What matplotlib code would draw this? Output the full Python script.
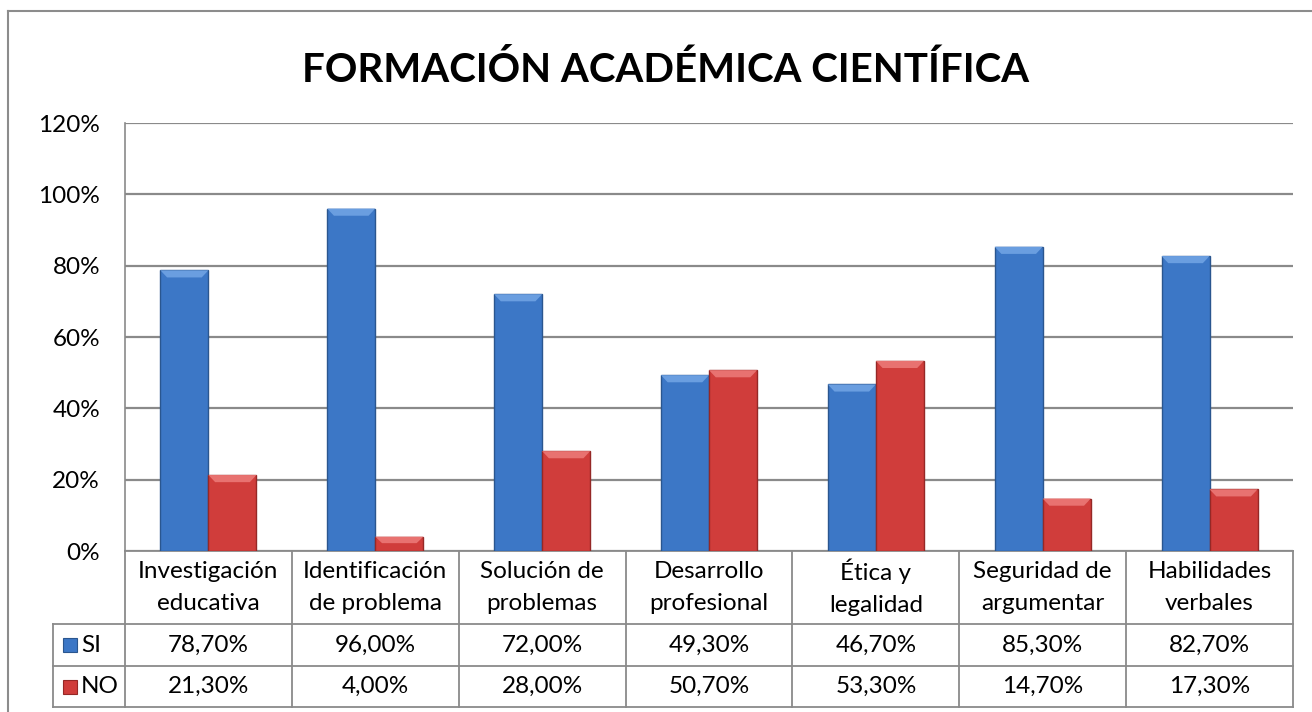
import matplotlib
matplotlib.use("Agg")
import matplotlib.pyplot as plt
from matplotlib.lines import Line2D
from matplotlib.patches import Rectangle, Polygon
from matplotlib.transforms import blended_transform_factory

CATEGORIES = [
    "Investigación\neducativa",
    "Identificación\nde problema",
    "Solución de\nproblemas",
    "Desarrollo\nprofesional",
    "Ética y\nlegalidad",
    "Seguridad de\nargumentar",
    "Habilidades\nverbales",
]
SI_VALUES = [78.7, 96.0, 72.0, 49.3, 46.7, 85.3, 82.7]
NO_VALUES = [21.3, 4.0, 28.0, 50.7, 53.3, 14.7, 17.3]
SERIES_NAMES = ["SI", "NO"]
Y_TICKS = [0, 20, 40, 60, 80, 100, 120]

TITLE = "FORMACIÓN ACADÉMICA CIENTÍFICA"

BLUE = "#3c77c6"
BLUE_EDGE = "#2a568f"
BLUE_LIGHT = "#6a9ee0"
RED = "#d03d3b"
RED_EDGE = "#952826"
RED_LIGHT = "#e87270"
GRID = "#8a8a8a"
FS = 17.5

plt.rcParams["font.family"] = ["Lato", "DejaVu Sans"]

W, H = 1312, 712
fig = plt.figure(figsize=(W / 100, H / 100), dpi=100)

# plot area in pixel terms of the reference
left_px, right_px, top_px, zero_px = 125, 1293, 123, 551
ax = fig.add_axes([left_px / W, 1 - zero_px / H,
                   (right_px - left_px) / W, (zero_px - top_px) / H])

n = len(CATEGORIES)
xs = list(range(n))
bw = 0.288
bars_si = ax.bar([x - bw / 2 for x in xs], SI_VALUES, width=bw, color=BLUE,
                 edgecolor=BLUE_EDGE, linewidth=1.0, zorder=3)
bars_no = ax.bar([x + bw / 2 for x in xs], NO_VALUES, width=bw, color=RED,
                 edgecolor=RED_EDGE, linewidth=1.0, zorder=3)

# light bevel on the top of each bar
for bars, light in ((bars_si, BLUE_LIGHT), (bars_no, RED_LIGHT)):
    for b in bars:
        x0, w, h = b.get_x(), b.get_width(), b.get_height()
        bev = min(2.0, h * 0.45)
        inset = w * 0.14
        ax.add_patch(Polygon([(x0, h), (x0 + w, h), (x0 + w - inset, h - bev),
                              (x0 + inset, h - bev)], closed=True,
                             facecolor=light, edgecolor="none", zorder=4))

ax.set_xlim(-0.5, n - 0.5)
ax.set_ylim(0, 120)
ax.set_yticks(Y_TICKS)
ax.set_yticklabels([f"{t}%" for t in Y_TICKS], fontsize=FS)
ax.tick_params(axis="y", length=0, pad=18)
ax.set_xticks([])
ax.yaxis.grid(True, color=GRID, linewidth=1.6, zorder=0)
ax.set_axisbelow(True)
for side in ("top", "right", "bottom"):
    ax.spines[side].set_visible(False)
ax.spines["left"].set_color(GRID)
ax.spines["left"].set_linewidth(1.2)

fig.text(0.507, 1 - 70 / H, TITLE, ha="center", va="center",
         fontsize=29, fontweight="bold", color="black")

# data table under the plot
tr = blended_transform_factory(ax.transData, ax.transAxes)
ah = zero_px - top_px
cw = (right_px - left_px) / n
y_head = -(624 - zero_px) / ah
y_si = -(666 - zero_px) / ah
y_no = -(707 - zero_px) / ah
leg_left = -0.5 - (left_px - 53) / cw


def hline(x0, x1, y):
    ax.add_line(Line2D([x0, x1], [y, y], transform=tr, color=GRID,
                       linewidth=1.3, clip_on=False))


def vline(x, y0, y1):
    ax.add_line(Line2D([x, x], [y0, y1], transform=tr, color=GRID,
                       linewidth=1.3, clip_on=False))


hline(-0.5, n - 0.5, 0)
hline(leg_left, n - 0.5, y_head)
hline(leg_left, n - 0.5, y_si)
hline(leg_left, n - 0.5, y_no)
for k in range(n + 1):
    vline(k - 0.5, 0, y_no)
vline(leg_left, y_head, y_no)

for x, cat in zip(xs, CATEGORIES):
    ax.text(x, y_head / 2, cat, transform=tr, ha="center", va="center",
            fontsize=FS, linespacing=1.62)

rows = [(SI_VALUES, (y_head + y_si) / 2, BLUE, BLUE_EDGE),
        (NO_VALUES, (y_si + y_no) / 2, RED, RED_EDGE)]
for (vals, yc, col, edge), name in zip(rows, SERIES_NAMES):
    for x, v in zip(xs, vals):
        ax.text(x, yc, f"{v:.2f}%".replace(".", ","), transform=tr,
                ha="center", va="center", fontsize=FS)
    # legend key
    kx = leg_left + 10 / cw
    kw = 14 / cw
    kh = 14 / ah
    ax.add_patch(Rectangle((kx, yc - kh / 2), kw, kh, transform=tr,
                           facecolor=col, edgecolor=edge, linewidth=0.8,
                           clip_on=False))
    ax.text(kx + kw + 4 / cw, yc, name, transform=tr,
            ha="left", va="center", fontsize=FS)

# outer chart border (cropped at right and bottom)
fig.add_artist(Line2D([7.5 / W, 1], [1 - 10.5 / H, 1 - 10.5 / H],
                      transform=fig.transFigure, color="#8c8c8c", linewidth=1.5))
fig.add_artist(Line2D([7.5 / W, 7.5 / W], [0, 1 - 10.5 / H],
                      transform=fig.transFigure, color="#8c8c8c", linewidth=1.5))

fig.savefig("out.png", dpi=100, facecolor="white")
